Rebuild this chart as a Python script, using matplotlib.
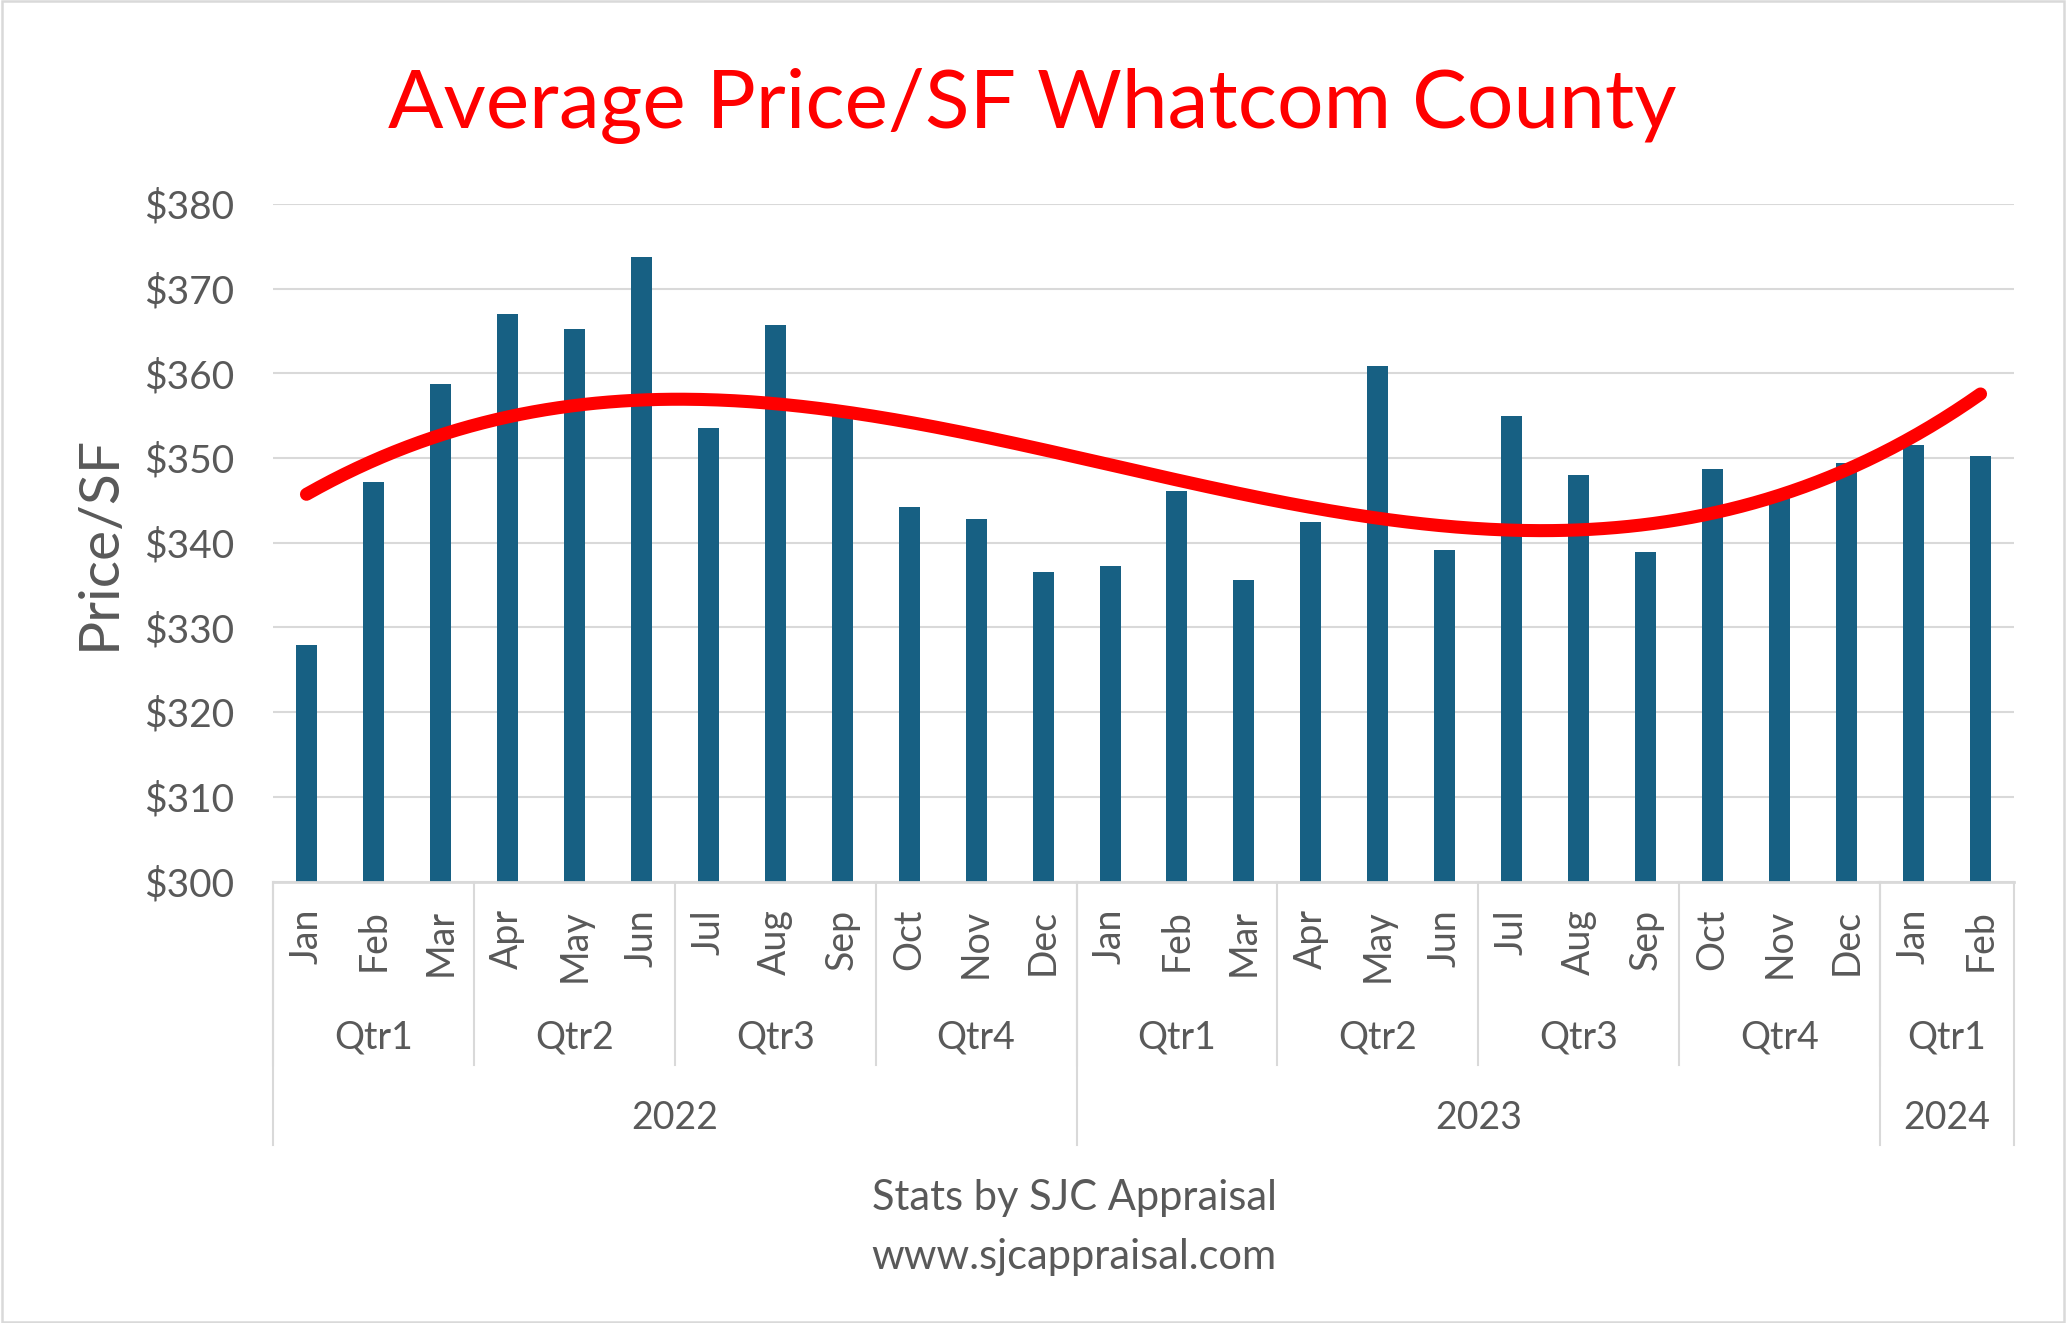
import numpy as np
import matplotlib
matplotlib.use("Agg")
import matplotlib.pyplot as plt
import matplotlib.transforms as mtransforms
from matplotlib.patches import Rectangle

plt.rcParams['font.family'] = ['Lato', 'DejaVu Sans']

months = ["Jan", "Feb", "Mar", "Apr", "May", "Jun", "Jul", "Aug", "Sep", "Oct", "Nov", "Dec",
          "Jan", "Feb", "Mar", "Apr", "May", "Jun", "Jul", "Aug", "Sep", "Oct", "Nov", "Dec",
          "Jan", "Feb"]
quarters = ["Qtr1", "Qtr2", "Qtr3", "Qtr4", "Qtr1", "Qtr2", "Qtr3", "Qtr4", "Qtr1"]
quarter_sizes = [3, 3, 3, 3, 3, 3, 3, 3, 2]
years = ["2022", "2023", "2024"]
year_sizes = [12, 12, 2]
price_sf = [327.9, 347.2, 358.8, 367.0, 365.3, 373.7, 353.5, 365.7, 355.5, 344.2, 342.8, 336.6,
            337.3, 346.1, 335.6, 342.4, 360.9, 339.2, 355.0, 348.0, 338.9, 348.7, 345.8, 349.4,
            351.5, 350.3]
yticks = [300, 310, 320, 330, 340, 350, 360, 370, 380]

W, H = 2066, 1323
fig = plt.figure(figsize=(W / 100, H / 100), dpi=100)
def fy(px):
    return 1 - px / H
def fx(px):
    return px / W

left, right, top, bottom = 273, 2014, 204, 881.6
ax = fig.add_axes([fx(left), fy(bottom), fx(right) - fx(left), fy(top) - fy(bottom)])

grey = "#D9D9D9"
text_grey = "#595959"
bar_color = "#176083"

x = np.arange(len(price_sf))
ax.bar(x, price_sf, width=0.314, color=bar_color, zorder=2)

# polynomial (order 3) trendline fitted to the data, like Excel's
coef = np.polyfit(x, price_sf, 3)
xs = np.linspace(0, len(price_sf) - 1, 400)
ax.plot(xs, np.polyval(coef, xs), color="#FF0000", lw=9.4, solid_capstyle="round", zorder=3)

ax.set_xlim(-0.5, len(price_sf) - 0.5)
ax.set_ylim(300, 380)
ax.set_yticks(yticks)
ax.set_yticklabels([f"${v}" for v in yticks], color=text_grey, fontsize=28)
ax.tick_params(axis="y", length=0, pad=28)
ax.set_xticks([])
ax.grid(axis="y", color=grey, lw=1.5, zorder=0)
ax.set_axisbelow(True)
for s in ["left", "right", "top"]:
    ax.spines[s].set_visible(False)
ax.spines["bottom"].set_color(grey)
ax.spines["bottom"].set_linewidth(2.0)

ax.set_ylabel("Price/SF", fontsize=41, color=text_grey, labelpad=14)

trans = mtransforms.blended_transform_factory(ax.transData, fig.transFigure)

# month labels
for i, m in enumerate(months):
    ax.text(i, fy(909), m, rotation=90, ha="center", va="top", fontsize=27,
            color=text_grey, transform=trans)

# quarter labels and separators
pos = -0.5
for q, n in zip(quarters, quarter_sizes):
    ax.text(pos + n / 2, fy(1037), q, ha="center", va="center", fontsize=27,
            color=text_grey, transform=trans)
    ax.plot([pos, pos], [fy(bottom), fy(1065)], color=grey, lw=1.5, transform=trans, clip_on=False)
    pos += n

# year labels and separators
pos = -0.5
for yv, n in zip(years, year_sizes):
    ax.text(pos + n / 2, fy(1118), yv, ha="center", va="center", fontsize=27,
            color=text_grey, transform=trans)
    ax.plot([pos, pos], [fy(bottom), fy(1145)], color=grey, lw=1.5, transform=trans, clip_on=False)
    pos += n
ax.plot([pos, pos], [fy(bottom), fy(1145)], color=grey, lw=1.5, transform=trans, clip_on=False)

fig.text(fx(1032), fy(128), "Average Price/SF Whatcom County", ha="center", va="baseline",
         fontsize=59, color="#FF0000")
fig.text(fx(1074), fy(1198), "Stats by SJC Appraisal", ha="center", va="center",
         fontsize=30, color=text_grey)
fig.text(fx(1074), fy(1257), "www.sjcappraisal.com", ha="center", va="center",
         fontsize=30, color=text_grey)

fig.patches.append(Rectangle((0.001, 0.001), 0.998, 0.998, transform=fig.transFigure,
                             fill=False, ec=grey, lw=1.8))

fig.savefig("out.png", dpi=100)
